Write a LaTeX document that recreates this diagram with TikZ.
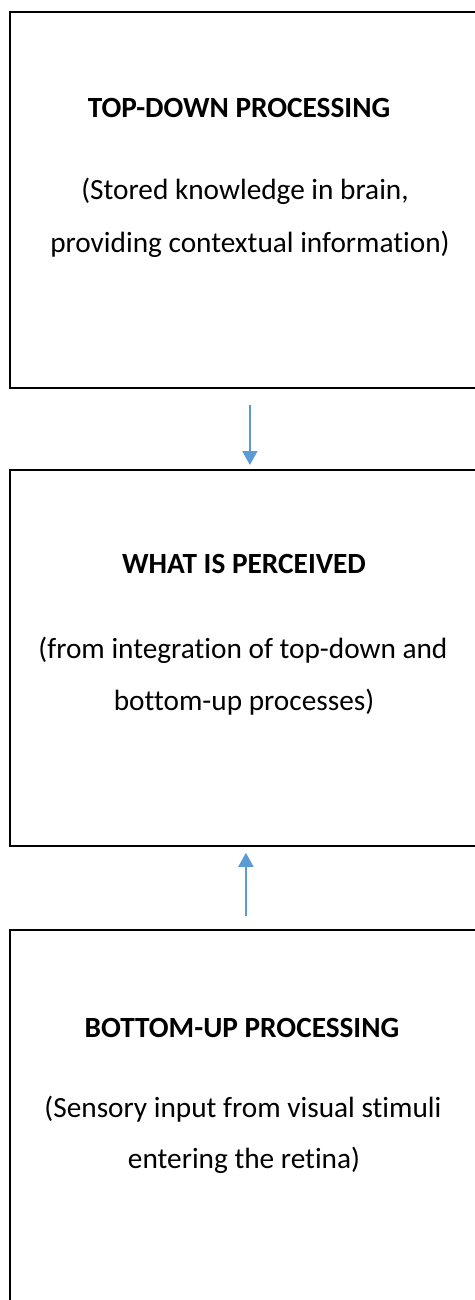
\documentclass[tikz,border=0pt]{standalone}
\usepackage{fontspec}
\setmainfont{Carlito}[Ligatures={TeX,NoCommon}]
\usetikzlibrary{arrows.meta}
\definecolor{arrowblue}{HTML}{5B9BD5}
\begin{document}
\begin{tikzpicture}[x=1pt,y=-1pt,
  box/.style={draw=black,line width=1.8pt,minimum width=491pt,anchor=north west,inner sep=0pt},
  ttl/.style={anchor=base,font=\fontsize{29.3}{35}\selectfont\bfseries,inner sep=0pt},
  txt/.style={anchor=base,font=\fontsize{29.3}{35}\selectfont,inner sep=0pt},
  arr/.style={draw=arrowblue,line width=1.8pt,-{Triangle[width=15pt,length=14pt]}}]
\useasboundingbox (0,0) rectangle (474,1300);
\node[box,minimum height=376pt] (b1) at (9,11) {};
\node[box,minimum height=376pt] (b2) at (9,469) {};
\node[box,minimum height=400pt] (b3) at (9,929) {};
\node[ttl] (t1) at (239,118) {TOP-DOWN PROCESSING};
\node[txt] (d1a) at (245,200) {(Stored knowledge in brain,};
\node[txt] (d1b) at (250,252) {providing contextual information)};
\node[ttl] (t2) at (244,573) {WHAT IS PERCEIVED};
\node[txt] (d2a) at (243,658) {(from integration of top-down and};
\node[txt] (d2b) at (244,710) {bottom-up processes)};
\node[ttl] (t3) at (242,1037) {BOTTOM-UP PROCESSING};
\node[txt] (d3a) at (243,1117) {(Sensory input from visual stimuli};
\node[txt] (d3b) at (244,1168) {entering the retina)};
\draw[arr] ([xshift=-5.5pt,yshift=-16pt]b1.south) -- ([xshift=-5.5pt,yshift=4pt]b2.north);
\draw[arr] ([xshift=-9.5pt,yshift=13pt]b3.north) -- ([xshift=-9.5pt,yshift=-6pt]b2.south);
\end{tikzpicture}
\end{document}
